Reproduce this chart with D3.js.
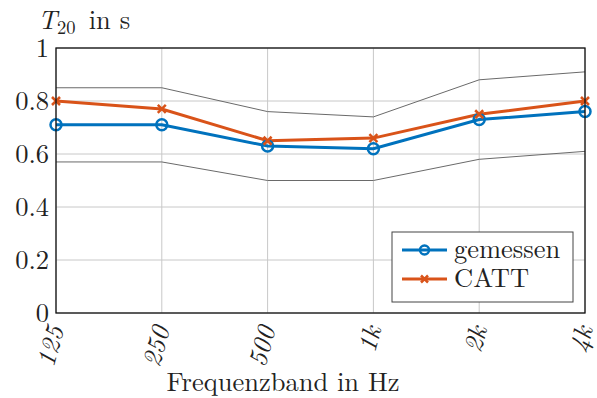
<!DOCTYPE html>
<html lang="de">
<head>
<meta charset="UTF-8">
<script src="https://d3js.org/d3.v7.min.js"></script>
<style>
  body { margin: 0; background: #fff; }
</style>
</head>
<body>
<svg id="chart" width="597" height="398"></svg>
<script>
// Data
const bands = ['125', '250', '500', '1k', '2k', '4k'];
const gemessen = [0.71, 0.71, 0.63, 0.62, 0.73, 0.76];
const catt = [0.80, 0.77, 0.65, 0.66, 0.75, 0.80];
const upperLimit = [0.85, 0.85, 0.76, 0.74, 0.88, 0.91];
const lowerLimit = [0.57, 0.57, 0.50, 0.50, 0.58, 0.61];
const yTicks = [0, 0.2, 0.4, 0.6, 0.8, 1];

const width = 597, height = 398;
const margin = { top: 48, right: 12, bottom: 85, left: 56 };
const font = '"Latin Modern Roman", "Liberation Serif", serif';
const fs = 26.5;

const svg = d3.select('#chart');

const x = d3.scalePoint()
  .domain(bands)
  .range([margin.left, width - margin.right]);
const y = d3.scaleLinear()
  .domain([0, 1])
  .range([height - margin.bottom, margin.top]);

// Grid
svg.append('g').selectAll('line').data(bands).join('line')
  .attr('x1', d => x(d)).attr('x2', d => x(d))
  .attr('y1', y(0)).attr('y2', y(1))
  .attr('stroke', '#c8c8c8').attr('stroke-width', 1);
svg.append('g').selectAll('line').data(yTicks).join('line')
  .attr('x1', x(bands[0])).attr('x2', x(bands[bands.length - 1]))
  .attr('y1', d => y(d)).attr('y2', d => y(d))
  .attr('stroke', '#c8c8c8').attr('stroke-width', 1);

const line = d3.line()
  .x((d, i) => x(bands[i]))
  .y(d => y(d));

// Tolerance limits
[upperLimit, lowerLimit].forEach(arr => {
  svg.append('path')
    .attr('d', line(arr))
    .attr('fill', 'none')
    .attr('stroke', '#6a6a6a')
    .attr('stroke-width', 1);
});

// Series
const blue = '#0072BD', orange = '#D95319';
svg.append('path').attr('d', line(gemessen))
  .attr('fill', 'none').attr('stroke', blue).attr('stroke-width', 3);
svg.append('path').attr('d', line(catt))
  .attr('fill', 'none').attr('stroke', orange).attr('stroke-width', 3);

function cross(g, cx, cy, r) {
  g.append('path')
    .attr('d', `M${cx - r},${cy - r}L${cx + r},${cy + r}M${cx - r},${cy + r}L${cx + r},${cy - r}`)
    .attr('stroke', orange).attr('stroke-width', 2.5).attr('fill', 'none');
}

svg.append('g').selectAll('circle').data(gemessen).join('circle')
  .attr('cx', (d, i) => x(bands[i])).attr('cy', d => y(d))
  .attr('r', 5.5).attr('fill', 'none')
  .attr('stroke', blue).attr('stroke-width', 2.5);

const crossG = svg.append('g');
catt.forEach((d, i) => cross(crossG, x(bands[i]), y(d), 4));

// Frame
svg.append('rect')
  .attr('x', x(bands[0])).attr('y', y(1))
  .attr('width', x(bands[bands.length - 1]) - x(bands[0]))
  .attr('height', y(0) - y(1))
  .attr('fill', 'none').attr('stroke', '#111').attr('stroke-width', 1.3);

// Y tick labels
svg.append('g').selectAll('text').data(yTicks).join('text')
  .attr('x', margin.left - 7).attr('y', d => y(d))
  .attr('dy', '0.33em')
  .attr('text-anchor', 'end')
  .attr('font-family', font)
  .attr('font-size', fs)
  .attr('fill', '#222')
  .text(d => d === 0 || d === 1 ? d : d.toFixed(1));

// X tick labels (rotated, italic)
svg.append('g').selectAll('text').data(bands).join('text')
  .attr('transform', d => `translate(${x(d) + 8},${y(0) + 16}) rotate(-75)`)
  .attr('text-anchor', 'end')
  .attr('font-family', font)
  .attr('font-size', fs)
  .attr('font-style', 'italic')
  .attr('fill', '#222')
  .text(d => d);

// Axis titles
const yt = svg.append('text').attr('x', 38).attr('y', 29)
  .attr('font-family', font).attr('font-size', fs).attr('fill', '#222');
yt.append('tspan').attr('font-style', 'italic').text('T');
yt.append('tspan').attr('font-size', 18.5).attr('dy', 5).text('20');
yt.append('tspan').attr('dy', -5).text('\u2002in s');

svg.append('text')
  .attr('x', 283)
  .attr('y', 391)
  .attr('text-anchor', 'middle')
  .attr('font-family', font)
  .attr('font-size', fs)
  .attr('fill', '#222')
  .text('Frequenzband in Hz');

// Legend
const lg = svg.append('g').attr('transform', 'translate(392,232)');
lg.append('rect').attr('width', 181).attr('height', 70)
  .attr('fill', '#fff').attr('stroke', '#444').attr('stroke-width', 1);
const items = [
  { name: 'gemessen', color: blue, marker: 'circle' },
  { name: 'CATT', color: orange, marker: 'cross' }
];
items.forEach((it, i) => {
  const cy = 18 + i * 29;
  lg.append('line').attr('x1', 10).attr('x2', 55).attr('y1', cy).attr('y2', cy)
    .attr('stroke', it.color).attr('stroke-width', 3);
  if (it.marker === 'circle') {
    lg.append('circle').attr('cx', 32.5).attr('cy', cy).attr('r', 4.5)
      .attr('fill', 'none').attr('stroke', it.color).attr('stroke-width', 2.5);
  } else {
    lg.append('path')
      .attr('d', `M29,${cy - 3.5}L36,${cy + 3.5}M29,${cy + 3.5}L36,${cy - 3.5}`)
      .attr('stroke', it.color).attr('stroke-width', 2.5);
  }
  lg.append('text').attr('x', 62).attr('y', cy).attr('dy', '0.32em')
    .attr('font-family', font).attr('font-size', fs).attr('fill', '#222').text(it.name);
});
</script>
</body>
</html>
